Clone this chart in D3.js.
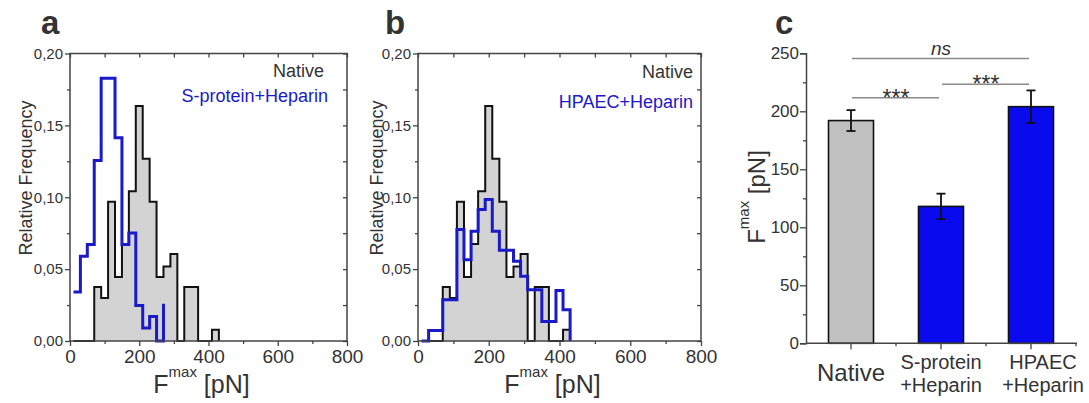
<!DOCTYPE html>
<html><head><meta charset="utf-8">
<script src="https://cdn.jsdelivr.net/npm/d3@7"></script>
<style>body{margin:0;background:#fff;} svg{display:block;font-family:"Liberation Sans",Arial,sans-serif;}</style>
</head><body><svg id="chart" width="1089" height="403"></svg>
<script>
// ---------- DATA ----------
// histogram bin left edges (pN); each series value is the relative frequency of the bin starting at that edge
const binEdges = [10,30,50,70,90,110,130,150,170,190,210,230,250,270,290,310,330,350,370,390,410,430];
const nativeFreq = [0,0,0,0.0376,0.0300,0.0968,0.0445,0.0675,0.1042,0.1635,0.1268,0.0968,0.0445,0.0519,0.0606,0,0.0376,0.0376,0,0,0.0078,0];
const sproteinFreq = [0.0341,0.0589,0.0671,0.1256,0.1828,0.1828,0.1414,0.0671,0.0752,0.0247,0.0090,0.0171,0,0.0259];
const hpaecFreq = [0,0.0073,0.0073,0.0287,0.0287,0.0775,0.0566,0.0763,0.0915,0.0984,0.0763,0.0631,0.0631,0.0555,0.0450,0.0357,0.0357,0.0136,0.0136,0.0352,0.0218,0];
const histXTicks = [0,200,400,600,800];
const histXMinor = [100,300,500,700];
const histYTicks = [0,0.05,0.10,0.15,0.20];
const histYMinor = [0.025,0.075,0.125,0.175];

const barCategories = ["Native","S-protein+Heparin","HPAEC+Heparin"];
const barLabelLines = [["Native"],["S-protein","+Heparin"],["HPAEC","+Heparin"]];
const barMeans = [192,118,204];
const barErrors = [9,11,14];
const barYTicks = [0,50,100,150,200,250];
const barYMinor = [25,75,125,175,225];
const sigFrom = [0,0,1];
const sigTo = [2,1,2];
const sigLevel = [245.5,211.7,223.3];
const sigLabel = ["ns","***","***"];

// ---------- STYLE ----------
const TXT = "#333";
const AX = "#444";
const GRAYFILL = "#d3d3d3";
const BLUELINE = "#1a1ac8";
const BARCOL = ["#c0c0c0","#0a0aee","#0a0aee"];

const svg = d3.select("#chart");
const commaFmt = v => d3.format(".2f")(v).replace(".", ",");

function histPanel(o){
  const x = d3.scaleLinear().domain([0,800]).range([o.x0,o.x1]);
  const y = d3.scaleLinear().domain([0,0.2]).range([341,53.5]);
  const g = svg.append("g");
  const pts = vals => vals.map((v,i)=>[binEdges[i], v]);

  const nat = pts(nativeFreq);
  g.append("path").datum(nat)
    .attr("d", d3.area().curve(d3.curveStepAfter).x(d=>x(d[0])).y0(y(0)).y1(d=>y(d[1])))
    .attr("fill", GRAYFILL);
  g.append("path").datum(nat)
    .attr("d", d3.line().curve(d3.curveStepAfter).x(d=>x(d[0])).y(d=>y(d[1])))
    .attr("fill","none").attr("stroke","#111").attr("stroke-width",2);
  g.append("path").datum(pts(o.blue))
    .attr("d", d3.line().curve(d3.curveStepAfter).x(d=>x(d[0])).y(d=>y(d[1])))
    .attr("fill","none").attr("stroke",BLUELINE).attr("stroke-width",3);

  const styleAx = sel => { sel.select(".domain").remove(); sel.selectAll("line").attr("stroke",AX).attr("stroke-width",1.3); sel.selectAll("text").attr("fill",TXT).attr("font-family","Liberation Sans, Arial, sans-serif"); };
  g.append("g").attr("transform",`translate(${o.x0},0)`)
    .call(d3.axisLeft(y).tickValues(histYTicks).tickFormat(commaFmt).tickSize(5).tickPadding(2))
    .call(styleAx).selectAll("text").attr("font-size",15);
  g.append("g").attr("transform",`translate(${o.x0},0)`)
    .call(d3.axisLeft(y).tickValues(histYMinor).tickFormat("").tickSize(3)).call(styleAx);
  g.append("g").attr("transform",`translate(0,${y(0)})`)
    .call(d3.axisBottom(x).tickValues(histXTicks).tickFormat(d3.format("d")).tickSize(5).tickPadding(4))
    .call(styleAx).selectAll("text").attr("font-size",19);
  g.append("g").attr("transform",`translate(0,${y(0)})`)
    .call(d3.axisBottom(x).tickValues(histXMinor).tickFormat("").tickSize(3)).call(styleAx);
  g.append("g").attr("transform",`translate(0,${y(0.2)})`)
    .call(d3.axisTop(x).tickValues(histXTicks.concat(histXMinor)).tickFormat("").tickSize(-4)).call(styleAx);
  g.append("g").attr("transform",`translate(${o.x1},0)`)
    .call(d3.axisRight(y).tickValues(histYTicks.concat(histYMinor)).tickFormat("").tickSize(-4)).call(styleAx);
  g.append("rect").attr("x",o.x0).attr("y",y(0.2)).attr("width",o.x1-o.x0).attr("height",y(0)-y(0.2))
    .attr("fill","none").attr("stroke",AX).attr("stroke-width",1.5);

  g.append("text").attr("x",o.letterX).attr("y",34).attr("font-size",33).attr("font-weight","bold").attr("fill",TXT).text(o.letter);
  g.append("text").attr("transform",`translate(${o.ylabX},178) rotate(-90)`).attr("text-anchor","middle")
    .attr("font-size",18).attr("fill",TXT).text("Relative Frequency");
  const xl = g.append("text").attr("x",(o.x0+o.x1)/2-7).attr("y",393).attr("text-anchor","middle").attr("font-size",25).attr("fill",TXT);
  xl.append("tspan").text("F");
  xl.append("tspan").attr("font-size",15).attr("dy",-16).text("max");
  xl.append("tspan").attr("dy",16).text(" [pN]");
  g.append("text").attr("x",o.legX1).attr("y",o.legY1).attr("text-anchor","end").attr("font-size",18).attr("fill",TXT).text("Native");
  g.append("text").attr("x",o.legX2).attr("y",o.legY2).attr("text-anchor","end").attr("font-size",18).attr("fill",BLUELINE).text(o.blueName);
}

histPanel({x0:70,x1:347,blue:sproteinFreq,blueName:barCategories[1],letter:"a",letterX:41,ylabX:32,legX1:324,legY1:77,legX2:328,legY2:102});
histPanel({x0:418,x1:701,blue:hpaecFreq,blueName:barCategories[2],letter:"b",letterX:385,ylabX:383,legX1:693,legY1:78,legX2:693,legY2:108});

// ---------- PANEL C ----------
(function(){
  const x = d3.scaleBand().domain(barCategories).range([806,1076]).paddingInner(0.5).paddingOuter(0.25);
  const y = d3.scaleLinear().domain([0,250]).range([343.3,53.3]);
  const g = svg.append("g");
  const styleAx = sel => { sel.select(".domain").attr("stroke",AX).attr("stroke-width",1.5); sel.selectAll("line").attr("stroke",AX).attr("stroke-width",1.3); sel.selectAll("text").attr("fill",TXT).attr("font-family","Liberation Sans, Arial, sans-serif"); };

  g.selectAll("rect.bar").data(barMeans).join("rect").attr("class","bar")
    .attr("x",(d,i)=>x(barCategories[i])).attr("width",x.bandwidth())
    .attr("y",d=>y(d)).attr("height",d=>y(0)-y(d))
    .attr("fill",(d,i)=>BARCOL[i]).attr("stroke","#111").attr("stroke-width",1.6);
  barMeans.forEach((m,i)=>{
    const cx = x(barCategories[i]) + x.bandwidth()/2;
    const e = barErrors[i];
    g.append("line").attr("x1",cx).attr("x2",cx).attr("y1",y(m-e)).attr("y2",y(m+e)).attr("stroke","#111").attr("stroke-width",1.8);
    [m-e,m+e].forEach(v=>g.append("line").attr("x1",cx-4.5).attr("x2",cx+4.5).attr("y1",y(v)).attr("y2",y(v)).attr("stroke","#111").attr("stroke-width",1.8));
  });

  g.append("g").attr("transform","translate(806,0)")
    .call(d3.axisLeft(y).tickValues(barYTicks).tickSize(6).tickPadding(1)).call(styleAx)
    .selectAll("text").attr("font-size",17);
  g.append("g").attr("transform","translate(806,0)")
    .call(d3.axisLeft(y).tickValues(barYMinor).tickFormat("").tickSize(3)).call(styleAx).select(".domain").remove();
  const xa = g.append("g").attr("transform",`translate(0,${y(0)})`)
    .call(d3.axisBottom(x).tickSize(6).tickFormat("")).call(styleAx);
  xa.select(".domain").attr("d","M806,0H1077");
  barCategories.forEach(c=>{
    const bx = x(c) + x.bandwidth()/2 + x.step()/2;
    xa.append("line").attr("x1",bx).attr("x2",bx).attr("y1",0).attr("y2",3).attr("stroke",AX).attr("stroke-width",1.3);
  });
  barLabelLines.forEach((lines,i)=>{
    const cx = x(barCategories[i]) + x.bandwidth()/2 + (i===2?12:0);
    if(lines.length===1){
      g.append("text").attr("x",cx).attr("y",381).attr("text-anchor","middle").attr("font-size",24).attr("fill",TXT).text(lines[0]);
    } else {
      lines.forEach((t,k)=>g.append("text").attr("x",cx).attr("y",369+k*23).attr("text-anchor","middle").attr("font-size",20).attr("fill",TXT).text(t));
    }
  });
  sigLabel.forEach((lab,i)=>{
    const xa1 = x(barCategories[sigFrom[i]]) + x.bandwidth()/2;
    const xa2 = x(barCategories[sigTo[i]]) + x.bandwidth()/2;
    const yy = y(sigLevel[i]);
    g.append("line").attr("x1",xa1+1).attr("x2",xa2-2).attr("y1",yy).attr("y2",yy).attr("stroke","#8a8a8a").attr("stroke-width",1.5);
    if(lab==="ns"){
      g.append("text").attr("x",(xa1+xa2)/2).attr("y",yy-3.5).attr("text-anchor","middle").attr("font-size",19).attr("font-style","italic").attr("fill",TXT).text(lab);
    } else {
      g.append("text").attr("x",(xa1+xa2)/2).attr("y",yy+8).attr("text-anchor","middle").attr("font-size",23).attr("fill",TXT).text(lab);
    }
  });
  g.append("text").attr("x",775).attr("y",34).attr("font-size",33).attr("font-weight","bold").attr("fill",TXT).text("c");
  const yl = g.append("text").attr("transform","translate(765,197) rotate(-90)").attr("text-anchor","middle").attr("font-size",24).attr("fill",TXT);
  yl.append("tspan").text("F");
  yl.append("tspan").attr("font-size",15).attr("dy",-16).text("max");
  yl.append("tspan").attr("dy",16).text(" [pN]");
})();
</script></body></html>
